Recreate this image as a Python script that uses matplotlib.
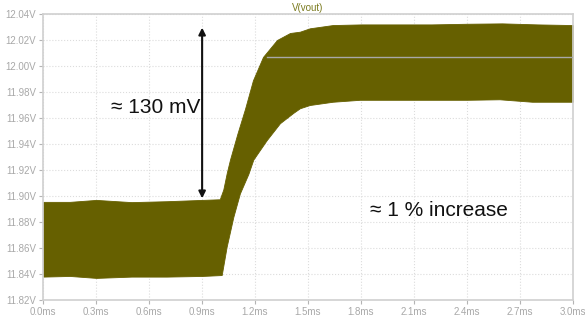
import matplotlib
matplotlib.use('Agg')
import matplotlib.pyplot as plt
import numpy as np

# envelope of V(vout) (time in ms, volts)
t_upper = [0.0, 0.15, 0.3, 0.5, 0.7, 0.9, 1.0, 1.02, 1.04, 1.058, 1.10, 1.143, 1.188, 1.245,
           1.324, 1.398, 1.454, 1.51, 1.64, 1.8, 2.0, 2.2, 2.4, 2.6, 2.8, 3.0]
v_upper = [11.8955, 11.8955, 11.897, 11.8953, 11.896, 11.897, 11.8975, 11.905, 11.918, 11.928,
           11.948, 11.967, 11.989, 12.007, 12.020, 12.0254, 12.0264, 12.029, 12.0315, 12.032,
           12.032, 12.032, 12.0325, 12.0328, 12.032, 12.0315]
t_lower = [0.0, 0.15, 0.3, 0.5, 0.7, 0.9, 1.011, 1.039, 1.077, 1.114, 1.162, 1.190, 1.266,
           1.341, 1.417, 1.454, 1.51, 1.64, 1.794, 2.02, 2.4, 2.585, 2.77, 3.0]
v_lower = [11.838, 11.8385, 11.837, 11.838, 11.838, 11.8385, 11.8392, 11.861, 11.884, 11.902,
           11.917, 11.928, 11.943, 11.956, 11.964, 11.9675, 11.970, 11.9725, 11.974, 11.974,
           11.974, 11.9744, 11.9725, 11.9725]

x_ticks = [0.0, 0.3, 0.6, 0.9, 1.2, 1.5, 1.8, 2.1, 2.4, 2.7, 3.0]
y_ticks = [11.82, 11.84, 11.86, 11.88, 11.90, 11.92, 11.94, 11.96, 11.98, 12.00, 12.02, 12.04]

# faint line across the band after the step
mid_line_t = [1.27, 3.0]
mid_line_v = [12.0072, 12.0072]

arrow_t = 0.9
arrow_v = (12.0295, 11.8982)

olive = '#666000'
gray = '#b4b4b4'
fam = ['Liberation Sans', 'DejaVu Sans']

fig = plt.figure(figsize=(5.85, 3.22), dpi=100)
ax = fig.add_axes([0.074, 0.0683, 0.905, 0.8882])

# the band: fill between the upper and lower envelope
tt = np.union1d(t_upper, t_lower)
ax.fill_between(tt, np.interp(tt, t_lower, v_lower), np.interp(tt, t_upper, v_upper),
                color=olive, linewidth=0.6, edgecolor=olive, zorder=2)
ax.plot(mid_line_t, mid_line_v, color='#a8a8a8', linewidth=1, zorder=3)

ax.annotate('', xy=(arrow_t, arrow_v[0]), xytext=(arrow_t, arrow_v[1]),
            arrowprops=dict(arrowstyle='<|-|>', color='#111111', lw=1.5,
                            mutation_scale=10, shrinkA=0, shrinkB=0), zorder=4)

ax.text(0.89, 11.968, '\u2248 130 mV', ha='right', va='center', fontsize=15,
        family=fam, color='#111111')
ax.text(1.85, 11.889, '\u2248 1 % increase', ha='left', va='center', fontsize=15,
        family=fam, color='#111111')

ax.set_xlim(0, 3.0)
ax.set_ylim(11.82, 12.04)
ax.set_xticks(x_ticks)
ax.set_yticks(y_ticks)
ax.set_xticklabels([f'{x:.1f}ms' for x in x_ticks], family=fam)
ax.set_yticklabels([f'{y:.2f}V' for y in y_ticks], family=fam)
ax.tick_params(colors=gray, labelcolor='#a8a8a8', labelsize=7, length=3, width=0.8, pad=2)
ax.grid(True, color='#dcdcdc', linestyle=':', linewidth=0.8, zorder=0)
for s in ax.spines.values():
    s.set_color('#d0d0d0')
    s.set_linewidth(1.2)

ax.set_title('V(vout)', color='#7a7a1e', fontsize=7, family=fam, pad=2)

fig.savefig('out.png', dpi=100)
